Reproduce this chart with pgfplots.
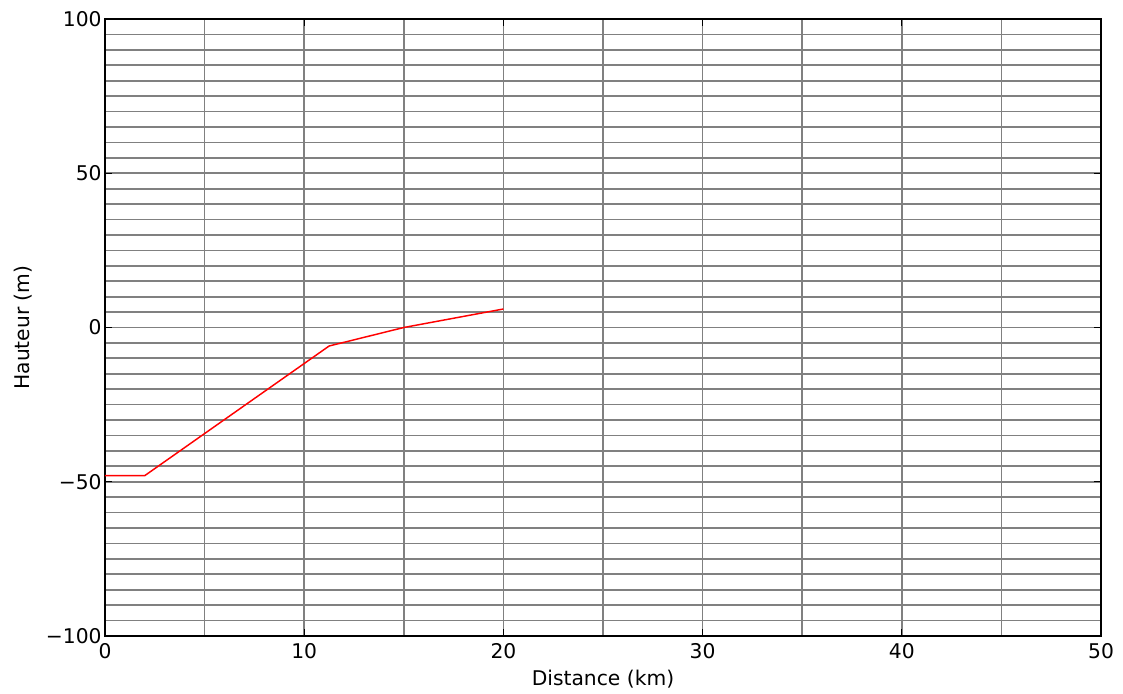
\documentclass[border=0pt]{standalone}
\usepackage{fontspec}
\setmainfont{DejaVu Sans}
\usepackage{pgfplots}
\pgfplotsset{compat=1.18}
\begin{document}
\begin{tikzpicture}
\begin{axis}[
  scale only axis,
  width=747pt, height=462.75pt,
  xmin=0, xmax=50, ymin=-100, ymax=100,
  xtick={0,10,20,30,40,50},
  xticklabels={0,10,20,30,40,50},
  ytick={-100,-50,0,50,100},
  yticklabels={−100,−50,0,50,100},
  minor xtick={5,15,25,35,45},
  minor ytick={-95,-90,...,95},
  grid=both,
  major grid style={draw=gray, line width=1.3pt},
  minor grid style={draw=gray, line width=1.3pt},
  axis line style={line width=1.2pt, black},
  tick style={black, line width=1pt},
  major tick length=5pt,
  minor tick length=0pt,
  tick align=inside,
  tick pos=both,
  ticklabel style={font=\fontsize{15.2}{18}\selectfont},
  label style={font=\fontsize{15.2}{18}\selectfont},
  xlabel={Distance (km)},
  ylabel={Hauteur (m)},
  xlabel style={yshift=-2pt},
  ylabel style={yshift=3.5pt},
  xticklabel style={yshift=-2pt},
  yticklabel style={xshift=1pt},
]
\addplot[red, line width=1.1pt] coordinates {(0,-48) (2,-48) (11.25,-6) (15,0) (20,6)};
\end{axis}
\path ([xshift=-78.75pt,yshift=-42.75pt]current axis.south west) rectangle ([xshift=16.5pt,yshift=14.25pt]current axis.north east);
\end{tikzpicture}
\end{document}
